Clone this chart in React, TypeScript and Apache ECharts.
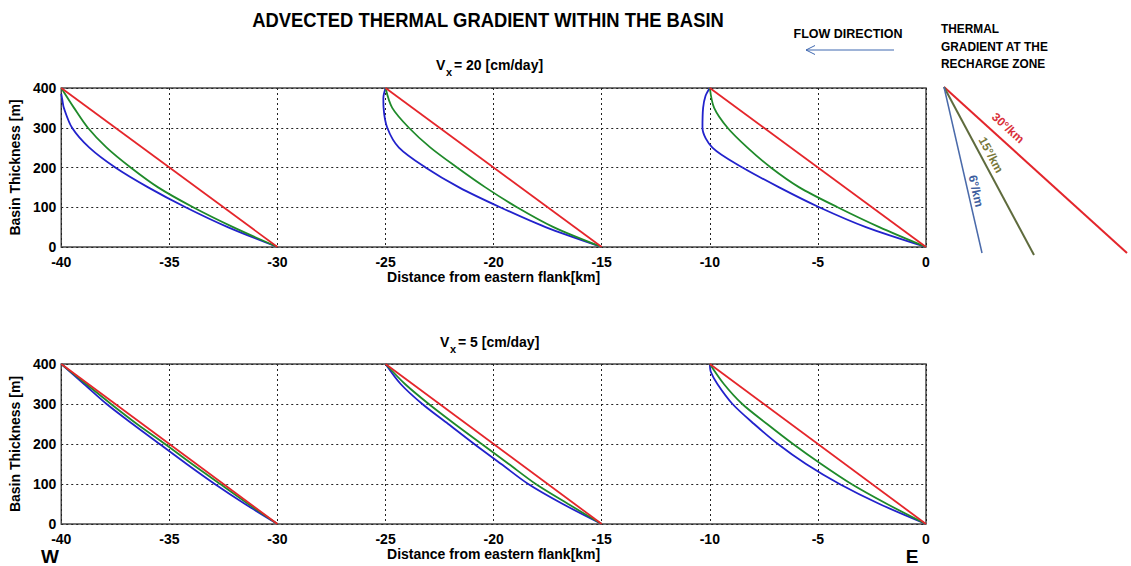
import React, { useEffect, useRef } from "react";
import * as echarts from "echarts";

// ---------- labels ----------
const MAIN_TITLE = "ADVECTED THERMAL GRADIENT WITHIN THE BASIN";
const FLOW_LABEL = "FLOW DIRECTION";
const RECHARGE_LABEL = ["THERMAL", "GRADIENT AT THE", "RECHARGE ZONE"];
const GRADIENT_LABELS = ["30°/km", "15°/km", "6°/km"];
const PANEL_VELOCITIES = ["20", "5"];
const X_NAME = "Distance from eastern flank[km]";
const Y_NAME = "Basin Thickness [m]";
const X_MIN = -40;
const X_MAX = 0;
const X_STEP = 5;
const Y_MIN = 0;
const Y_MAX = 400;
const Y_STEP = 100;

// ---------- Vx = 20 cm/day (top panel) ----------
const TOP_RED_1 = [[-40, 400], [-30, 0]];
const TOP_GREEN_1 = [[-40, 400], [-39.41, 350], [-38.77, 300], [-37.9, 250], [-36.79, 200], [-35.52, 150], [-33.9, 100], [-32.05, 50], [-30, 0]];
const TOP_BLUE_1 = [[-40, 385], [-39.95, 370], [-39.88, 350], [-39.5, 300], [-38.7, 250], [-37.5, 200], [-35.98, 150], [-34.25, 100], [-32.3, 50], [-30, 0]];
const TOP_RED_2 = [[-25, 400], [-15, 0]];
const TOP_GREEN_2 = [[-25, 400], [-24.69, 350], [-23.92, 300], [-22.92, 250], [-21.69, 200], [-20.38, 150], [-18.92, 100], [-17.23, 50], [-15, 0]];
const TOP_BLUE_2 = [[-25, 400], [-25.1, 375], [-25.09, 350], [-24.92, 300], [-24.38, 250], [-23.15, 200], [-21.6, 150], [-19.7, 100], [-17.6, 50], [-15, 0]];
const TOP_RED_3 = [[-10, 400], [0, 0]];
const TOP_GREEN_3 = [[-10, 400], [-9.8, 350], [-9.18, 300], [-8.26, 250], [-7.18, 200], [-5.86, 150], [-4.09, 100], [-2.16, 50], [0, 0]];
const TOP_BLUE_3 = [[-10, 400], [-10.2, 380], [-10.31, 350], [-10.34, 300], [-9.88, 250], [-8.49, 200], [-6.79, 150], [-4.94, 100], [-2.78, 50], [0, 0]];

// ---------- Vx = 5 cm/day (bottom panel) ----------
const BOT_RED_1 = [[-40, 400], [-30, 0]];
const BOT_GREEN_1 = [[-40, 400], [-38.85, 350], [-37.7, 300], [-36.5, 250], [-35.2, 200], [-33.95, 150], [-32.65, 100], [-31.35, 50], [-30, 0]];
const BOT_BLUE_1 = [[-40, 400], [-38.95, 350], [-37.9, 300], [-36.7, 250], [-35.45, 200], [-34.2, 150], [-32.9, 100], [-31.5, 50], [-30, 0]];
const BOT_RED_2 = [[-25, 400], [-15, 0]];
const BOT_GREEN_2 = [[-25, 400], [-24.1, 350], [-23.0, 300], [-21.8, 250], [-20.55, 200], [-19.3, 150], [-18.05, 100], [-16.55, 50], [-15, 0]];
const BOT_BLUE_2 = [[-25, 400], [-24.3, 350], [-23.3, 300], [-22.1, 250], [-20.9, 200], [-19.65, 150], [-18.4, 100], [-16.8, 50], [-15, 0]];
const BOT_RED_3 = [[-10, 400], [0, 0]];
const BOT_GREEN_3 = [[-10, 400], [-9.35, 350], [-8.5, 300], [-7.35, 250], [-6.15, 200], [-4.85, 150], [-3.45, 100], [-1.8, 50], [0, 0]];
const BOT_BLUE_3 = [[-10, 400], [-9.95, 380], [-9.65, 350], [-8.95, 300], [-7.95, 250], [-6.85, 200], [-5.55, 150], [-4.0, 100], [-2.15, 50], [0, 0]];

const RED = "#e5262b";
const GREEN = "#1f8a2a";
const BLUE = "#2222cc";

const SANS = "'Liberation Sans', Arial, sans-serif";

export default function App() {
  const ref = useRef<HTMLDivElement>(null);

  useEffect(() => {
    if (!ref.current) return;
    const chart = echarts.init(ref.current, undefined, { renderer: "svg" });

    const grids = [
      { left: 60, top: 88, width: 866, height: 159 },
      { left: 60, top: 364, width: 866, height: 160 },
    ].map((g) => ({ ...g, show: true, borderColor: "#4a4a4a", borderWidth: 1.5, backgroundColor: "transparent" }));

    const dotted = { show: true, lineStyle: { color: "#222", width: 1, type: [2, 3] as any } };
    const tickLabel = { color: "#000", fontFamily: SANS, fontWeight: "bold" as const, fontSize: 14, lineHeight: 13 };
    const nameStyle = { color: "#000", fontFamily: SANS, fontWeight: "bold" as const, fontSize: 14 };

    const xAxes = [0, 1].map((i) => ({
      type: "value" as const,
      gridIndex: i,
      min: X_MIN,
      max: X_MAX,
      interval: X_STEP,
      axisLine: { show: false },
      axisTick: { show: false },
      splitLine: dotted,
      axisLabel: { ...tickLabel, margin: 8 },
      name: X_NAME,
      nameLocation: "middle" as const,
      nameGap: 23,
      nameTextStyle: nameStyle,
    }));
    const yAxes = [0, 1].map((i) => ({
      type: "value" as const,
      gridIndex: i,
      min: Y_MIN,
      max: Y_MAX,
      interval: Y_STEP,
      axisLine: { show: false },
      axisTick: { show: false },
      splitLine: dotted,
      axisLabel: { ...tickLabel, margin: 5 },
      name: Y_NAME,
      nameLocation: "middle" as const,
      nameGap: 37,
      nameTextStyle: nameStyle,
    }));

    const mk = (data: number[][], color: string, idx: number, width = 1.8) => ({
      type: "line" as const,
      xAxisIndex: idx,
      yAxisIndex: idx,
      data,
      showSymbol: false,
      symbol: "none",
      silent: true,
      clip: false,
      smooth: 0.3,
      lineStyle: { color, width },
    });

    const series = [
      mk(TOP_BLUE_1, BLUE, 0), mk(TOP_GREEN_1, GREEN, 0), mk(TOP_RED_1, RED, 0),
      mk(TOP_BLUE_2, BLUE, 0), mk(TOP_GREEN_2, GREEN, 0), mk(TOP_RED_2, RED, 0),
      mk(TOP_BLUE_3, BLUE, 0), mk(TOP_GREEN_3, GREEN, 0), mk(TOP_RED_3, RED, 0),
      mk(BOT_BLUE_1, BLUE, 1), mk(BOT_GREEN_1, GREEN, 1), mk(BOT_RED_1, RED, 1),
      mk(BOT_BLUE_2, BLUE, 1), mk(BOT_GREEN_2, GREEN, 1), mk(BOT_RED_2, RED, 1),
      mk(BOT_BLUE_3, BLUE, 1), mk(BOT_GREEN_3, GREEN, 1), mk(BOT_RED_3, RED, 1),
    ];

    const txt = (text: string, x: number, y: number, size: number, opts: any = {}) => ({
      type: "text",
      x,
      y,
      rotation: opts.rotation || 0,
      scaleX: opts.scaleX || 1,
      silent: true,
      style: {
        text,
        fill: opts.fill || "#000",
        fontSize: size,
        fontWeight: "bold",
        fontFamily: SANS,
        align: opts.align || "left",
        verticalAlign: "middle",
      },
    });

    const subtitle = (v: string, x: number, y: number) => [
      txt("V", x, y, 14),
      txt("x", x + 10, y + 7, 11),
      txt(`= ${v} [cm/day]`, x + 18, y, 14),
    ];

    const ox = 944;
    const oy = 87;
    const graphic: any[] = [
      txt(MAIN_TITLE, 488, 20, 20, { align: "center", scaleX: 0.92 }),
      ...subtitle(PANEL_VELOCITIES[0], 436, 65),
      ...subtitle(PANEL_VELOCITIES[1], 440, 342),
      txt(FLOW_LABEL, 848, 34, 12.5, { align: "center" }),
      { type: "line", silent: true, shape: { x1: 806, y1: 50, x2: 894, y2: 50 }, style: { stroke: "#3f68b0", lineWidth: 1 } },
      { type: "polyline", silent: true, shape: { points: [[815, 45.5], [806, 50], [815, 54.5]] }, style: { stroke: "#3f68b0", lineWidth: 1, fill: "none" } },
      txt(RECHARGE_LABEL[0], 941, 29, 12.5, { scaleX: 0.95 }),
      txt(RECHARGE_LABEL[1], 941, 46.5, 12.5, { scaleX: 0.95 }),
      txt(RECHARGE_LABEL[2], 941, 64, 12.5, { scaleX: 0.95 }),
      { type: "line", silent: true, shape: { x1: ox, y1: oy, x2: 1127, y2: 253 }, style: { stroke: "#e3252b", lineWidth: 2 } },
      { type: "line", silent: true, shape: { x1: ox, y1: oy, x2: 1034, y2: 255 }, style: { stroke: "#5f6b3d", lineWidth: 2 } },
      { type: "line", silent: true, shape: { x1: ox, y1: oy, x2: 982, y2: 253 }, style: { stroke: "#4a6aaa", lineWidth: 1.5 } },
      txt(GRADIENT_LABELS[0], 1008, 128, 12, { align: "center", rotation: -0.738, fill: "#d9303a" }),
      txt(GRADIENT_LABELS[1], 991, 155, 12, { align: "center", rotation: -1.079, fill: "#77783a" }),
      txt(GRADIENT_LABELS[2], 976, 191, 12, { align: "center", rotation: -1.347, fill: "#3f5f9f" }),
      txt("W", 50, 556, 19, { align: "center" }),
      txt("E", 912, 556, 19, { align: "center" }),
    ];

    chart.setOption({
      animation: false,
      backgroundColor: "#fff",
      grid: grids,
      xAxis: xAxes,
      yAxis: yAxes,
      series,
      graphic,
    });
    return () => chart.dispose();
  }, []);

  return (
    <div
      ref={ref}
      style={{ position: "fixed", left: 0, top: 0, width: 1131, height: 566, background: "#fff" }}
    />
  );
}
